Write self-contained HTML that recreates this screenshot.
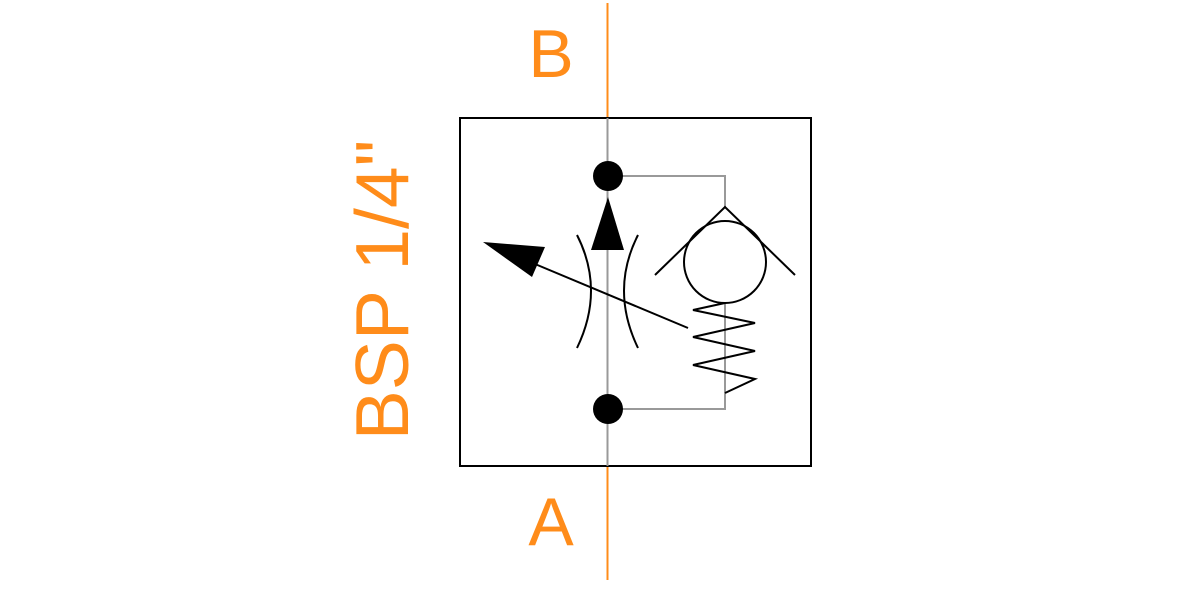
<!DOCTYPE html>
<html><head><meta charset="utf-8"><style>html,body{margin:0;padding:0;background:#fff;}svg{display:block}</style></head>
<body>
<svg width="1200" height="600" viewBox="0 0 1200 600" xmlns="http://www.w3.org/2000/svg">
<rect x="0" y="0" width="1200" height="600" fill="#fff"/>
<line x1="607.5" y1="3" x2="607.5" y2="580" stroke="#ff8c1a" stroke-width="2"/>
<rect x="460" y="118" width="351" height="348" fill="#fff" stroke="#000" stroke-width="2"/>
<line x1="607.5" y1="118" x2="607.5" y2="466" stroke="#999" stroke-width="2"/>
<g font-family="Liberation Sans, sans-serif" fill="#ff8c1a">
<text x="551" y="77" font-size="68" text-anchor="middle">B</text>
<text x="551" y="545" font-size="68" text-anchor="middle">A</text>
<text transform="translate(408,290) rotate(-90)" font-size="75" text-anchor="middle">BSP 1/4"</text>
</g>
<g fill="none" stroke="#999" stroke-width="2">
<polyline points="608,176 725,176 725,207"/>
<polyline points="725,393 725,409 608,409"/>
<line x1="725" y1="303" x2="725" y2="393"/>
</g>
<circle cx="608" cy="176" r="15" fill="#000"/>
<circle cx="608" cy="409" r="15" fill="#000"/>
<polygon points="608,197 591,250 624,250" fill="#000"/>
<g fill="none" stroke="#000" stroke-width="2">
<polyline points="655,275 725,207 795,275"/>
<circle cx="725" cy="262" r="41"/>
<polyline points="725,303 693,310 755,323 693,337 755,351 693,365 755,379 725,393"/>
<path d="M577,235 Q605,290 577,348"/>
<path d="M638,235 Q610,290 638,348"/>
<line x1="688" y1="328" x2="535" y2="264"/>
</g>
<polygon points="483,242 545,247 532,277" fill="#000"/>
</svg>
</body></html>
